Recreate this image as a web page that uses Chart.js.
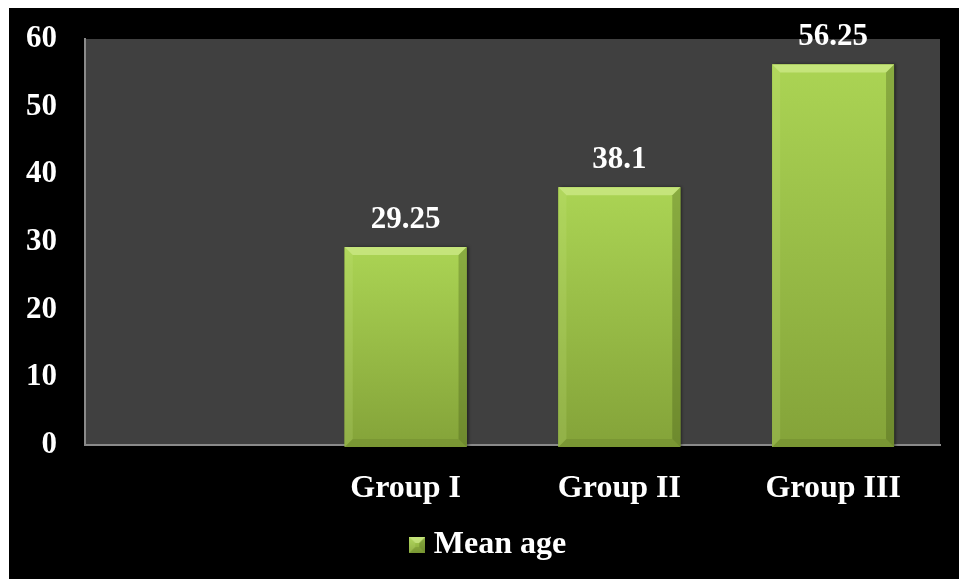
<!DOCTYPE html>
<html>
<head>
<meta charset="utf-8">
<script src="https://cdn.jsdelivr.net/npm/chart.js@4/dist/chart.umd.min.js"></script>
<style>
  html, body { margin: 0; padding: 0; background: #ffffff; }
  #wrap { position: absolute; left: 9px; top: 8px; width: 950px; height: 571px; background: #000000; }
  canvas { display: block; }
</style>
</head>
<body>
<div id="wrap"><canvas id="chart" width="950" height="571"></canvas></div>
<script>
// Mean age per group
const categories = ['', 'Group I', 'Group II', 'Group III'];
const meanAge = [null, 29.25, 38.1, 56.25];
const seriesName = 'Mean age';
const yTicks = [0, 10, 20, 30, 40, 50, 60];

const FONT = { family: '"Liberation Serif", "Times New Roman", serif', size: 31, weight: 'bold' };
const FONT_X = { family: FONT.family, size: 32, weight: 'bold' };

// Draw a bevelled green block into a context
function bevelBlock(ctx, x0, top, x1, bot, b) {
  const g = ctx.createLinearGradient(0, top, 0, bot);
  g.addColorStop(0, '#abd454');
  g.addColorStop(1, '#84a339');
  ctx.fillStyle = g;
  ctx.fillRect(x0, top, x1 - x0, bot - top);
  // top face
  ctx.fillStyle = 'rgba(215,240,150,0.6)';
  ctx.beginPath();
  ctx.moveTo(x0, top); ctx.lineTo(x1, top); ctx.lineTo(x1 - b, top + b); ctx.lineTo(x0 + b, top + b);
  ctx.closePath(); ctx.fill();
  // left face
  ctx.fillStyle = 'rgba(200,230,130,0.2)';
  ctx.beginPath();
  ctx.moveTo(x0, top); ctx.lineTo(x0 + b, top + b); ctx.lineTo(x0 + b, bot - b); ctx.lineTo(x0, bot);
  ctx.closePath(); ctx.fill();
  // right face
  ctx.fillStyle = 'rgba(60,80,20,0.3)';
  ctx.beginPath();
  ctx.moveTo(x1, top); ctx.lineTo(x1 - b, top + b); ctx.lineTo(x1 - b, bot - b); ctx.lineTo(x1, bot);
  ctx.closePath(); ctx.fill();
  // bottom face
  ctx.fillStyle = 'rgba(60,80,20,0.15)';
  ctx.beginPath();
  ctx.moveTo(x0, bot); ctx.lineTo(x0 + b, bot - b); ctx.lineTo(x1 - b, bot - b); ctx.lineTo(x1, bot);
  ctx.closePath(); ctx.fill();
}

// Small swatch used as the legend marker
const swatch = document.createElement('canvas');
swatch.width = 16; swatch.height = 16;
bevelBlock(swatch.getContext('2d'), 0, 0, 16, 16, 6);

const plotBackground = {
  id: 'plotBackground',
  beforeDraw(chart) {
    const { ctx, chartArea: a } = chart;
    ctx.save();
    ctx.fillStyle = '#404040';
    ctx.fillRect(a.left, a.top, a.right - a.left, a.bottom - a.top);
    ctx.restore();
  }
};

// Nudge the legend a little right of the canvas centre
const legendOffset = {
  id: 'legendOffset',
  afterLayout(chart) {
    if (chart.legend) {
      chart.legend.left += 17;
      chart.legend.right += 17;
    }
  }
};

const bevelBars = {
  id: 'bevelBars',
  afterDatasetsDraw(chart) {
    const { ctx } = chart;
    const meta = chart.getDatasetMeta(0);
    ctx.save();
    meta.data.forEach((el, i) => {
      if (meanAge[i] == null) return;
      const x0 = el.x - el.width / 2, x1 = el.x + el.width / 2;
      ctx.shadowColor = 'rgba(0,0,0,0.5)';
      ctx.shadowOffsetX = 2; ctx.shadowBlur = 3;
      ctx.fillStyle = '#94b545';
      ctx.fillRect(x0, el.y, x1 - x0, el.base - el.y + 2);
      ctx.shadowColor = 'transparent';
      bevelBlock(ctx, x0, el.y, x1, el.base + 2, 8);
    });
    ctx.restore();
  },
  afterDraw(chart) {
    const { ctx } = chart;
    const meta = chart.getDatasetMeta(0);
    ctx.save();
    ctx.fillStyle = '#ffffff';
    ctx.font = `${FONT.weight} ${FONT.size}px ${FONT.family}`;
    ctx.textAlign = 'center';
    ctx.textBaseline = 'middle';
    meta.data.forEach((el, i) => {
      if (meanAge[i] == null) return;
      ctx.fillText(String(meanAge[i]), el.x, el.y - 27);
    });
    ctx.restore();
  }
};

new Chart(document.getElementById('chart'), {
  type: 'bar',
  data: {
    labels: categories,
    datasets: [{
      label: seriesName,
      data: meanAge,
      backgroundColor: '#94b545',
      borderWidth: 0,
      categoryPercentage: 1,
      barPercentage: 0.57
    }]
  },
  options: {
    responsive: false,
    animation: false,
    layout: { padding: { left: 0, top: 31, right: 19, bottom: 8 } },
    scales: {
      x: {
        grid: { display: false, drawTicks: false },
        border: { display: true, color: '#8a8a8a', width: 2 },
        ticks: { color: '#ffffff', font: FONT_X, padding: 25, maxRotation: 0 },
        afterFit(s) { s.height = 76; s.paddingLeft = 0; s.paddingRight = 0; }
      },
      y: {
        min: 0, max: 60,
        grid: { display: false, drawTicks: false },
        border: { display: true, color: '#8a8a8a', width: 2 },
        afterBuildTicks(s) { s.ticks = yTicks.map(v => ({ value: v })); },
        ticks: { color: '#ffffff', font: FONT, padding: 28 },
        afterFit(s) { s.width = 76; s.paddingTop = 0; s.paddingBottom = 0; }
      }
    },
    plugins: {
      legend: {
        position: 'bottom',
        labels: {
          color: '#ffffff',
          font: FONT_X,
          usePointStyle: true,
          boxWidth: 1,
          padding: 8,
          generateLabels(chart) {
            return [{ text: seriesName, fontColor: '#ffffff', pointStyle: swatch, fillStyle: '#94b545', strokeStyle: 'transparent', lineWidth: 0, datasetIndex: 0, hidden: false }];
          }
        }
      },
      tooltip: { enabled: false }
    }
  },
  plugins: [plotBackground, legendOffset, bevelBars]
});
</script>
</body>
</html>
